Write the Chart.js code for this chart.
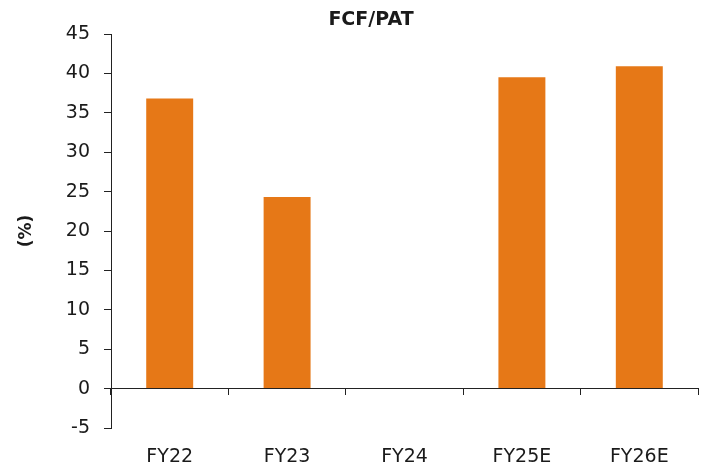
<!DOCTYPE html>
<html>
<head>
<meta charset="utf-8">
<script src="https://cdn.jsdelivr.net/npm/chart.js@4/dist/chart.umd.min.js"></script>
<style>
    html, body { margin: 0; padding: 0; background: #fff; }
    #wrap { width: 704px; height: 466px; }
</style>
</head>
<body>
<div id="wrap"><canvas id="fcfChart"></canvas></div>
<script>
// Chart data
const chartTitle = 'FCF/PAT';
const categories = ['FY22', 'FY23', 'FY24', 'FY25E', 'FY26E'];
const fcfToPat = [36.8, 24.3, 0, 39.5, 40.9]; // %
const yTicks = [-5, 0, 5, 10, 15, 20, 25, 30, 35, 40, 45];

const FONT = "'DejaVu Sans', Verdana, sans-serif";
const INK = '#1a1a1a';
const AXIS = '#222222';

// Title drawn a bit left of centre, like the original
const titlePlugin = {
    id: 'offsetTitle',
    afterDraw(chart) {
        const ctx = chart.ctx;
        ctx.save();
        ctx.font = 'bold 19px ' + FONT;
        ctx.fillStyle = INK;
        ctx.textAlign = 'center';
        ctx.textBaseline = 'middle';
        ctx.fillText(chartTitle, 371, 20);
        ctx.restore();
    }
};

const ctx = document.getElementById('fcfChart').getContext('2d');
const chart = new Chart(ctx, {
    type: 'bar',
    data: {
        labels: categories,
        datasets: [{
            label: chartTitle,
            data: fcfToPat,
            backgroundColor: '#E67817',
            borderWidth: 0,
            barPercentage: 0.5,
            categoryPercentage: 0.8,
            xAxisID: 'x',
            yAxisID: 'y'
        }]
    },
    options: {
        responsive: true,
        maintainAspectRatio: false,
        animation: false,
        layout: { padding: { top: 34, right: 6, bottom: 0, left: 0 } },
        plugins: {
            legend: { display: false },
            title: { display: false },
            tooltip: { enabled: false }
        },
        scales: {
            // axis line sitting on zero, with tick marks only
            x: {
                type: 'category',
                position: { y: 0 },
                offset: true,
                grid: {
                    display: true,
                    drawOnChartArea: false,
                    drawTicks: true,
                    tickLength: 6,
                    color: AXIS,
                    offset: true
                },
                border: { display: true, color: AXIS, width: 1 },
                ticks: { display: false }
            },
            // category labels along the bottom
            x2: {
                type: 'category',
                position: 'bottom',
                labels: categories,
                offset: true,
                grid: { display: false, drawTicks: false },
                border: { display: false },
                ticks: {
                    color: INK,
                    font: { family: FONT, size: 19 },
                    padding: 18,
                    maxRotation: 0
                },
                afterFit(scale) { scale.height = 38; }
            },
            y: {
                min: -5,
                max: 45,
                afterBuildTicks(scale) {
                    scale.ticks = yTicks.map(v => ({ value: v }));
                },
                grid: {
                    display: true,
                    drawOnChartArea: false,
                    drawTicks: true,
                    tickLength: 7,
                    color: AXIS
                },
                border: { display: true, color: AXIS, width: 1 },
                ticks: {
                    color: INK,
                    font: { family: FONT, size: 19 },
                    padding: 14
                },
                title: {
                    display: true,
                    text: '(%)',
                    color: INK,
                    font: { family: FONT, size: 17, weight: 'bold' },
                    padding: { top: 16, bottom: 0 }
                },
                afterFit(scale) { scale.width = 111; }
            }
        }
    },
    plugins: [titlePlugin]
});
</script>
</body>
</html>
